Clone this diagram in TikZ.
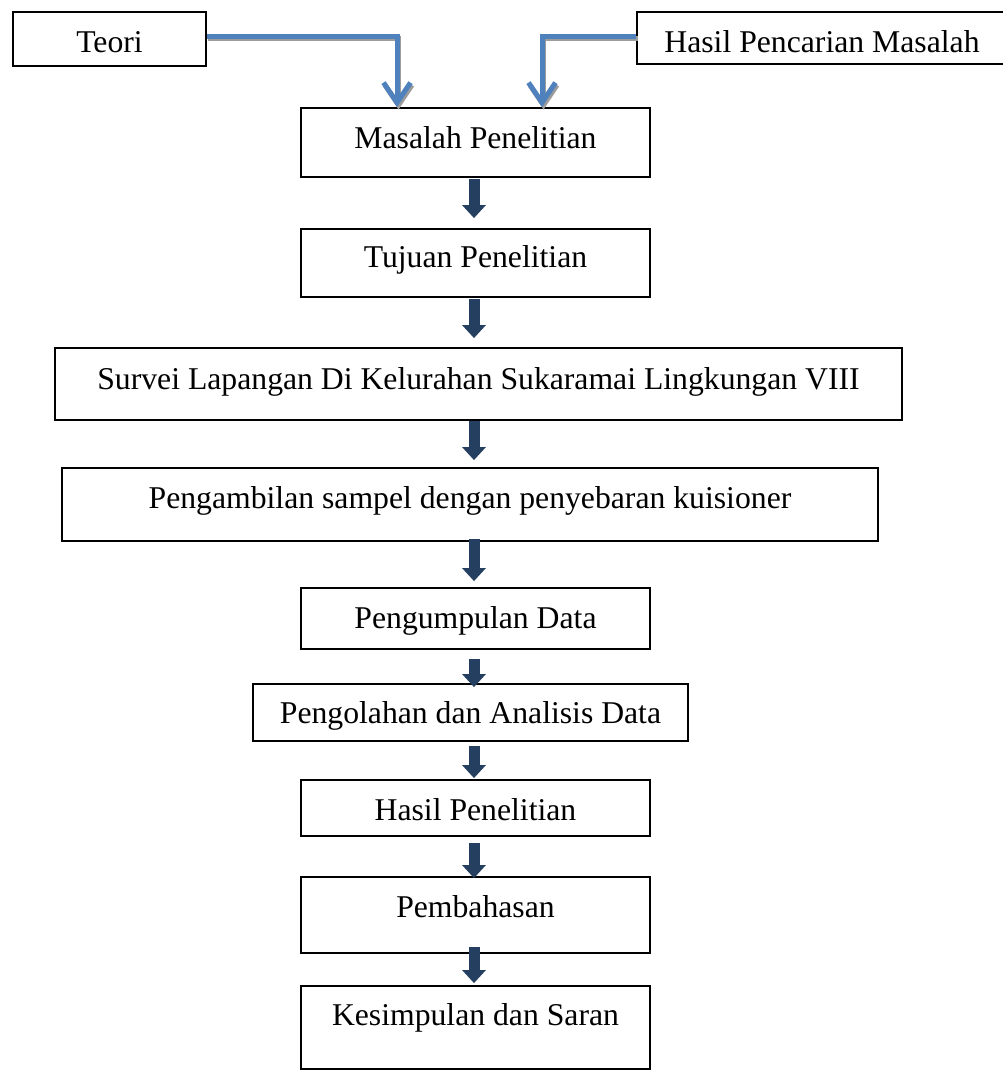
\documentclass[tikz,border=0pt]{standalone}
\usepackage{fontspec}
\setmainfont{Liberation Serif}
\usetikzlibrary{arrows.meta,calc}
\definecolor{blueC}{HTML}{4F81BD}
\definecolor{shadC}{HTML}{9C9C9C}
\definecolor{navyC}{HTML}{243F60}
\begin{document}
\begin{tikzpicture}[x=1pt,y=-1pt,
 box/.style={draw=black, line width=1.8pt, rectangle, inner sep=0pt,
   font=\fontsize{31.7}{38}\selectfont, text height=30pt},
 darr/.style={draw=navyC, line width=11pt, -{Triangle[length=13pt,width=23pt]}},
 barr/.style={draw=blueC, line width=5pt, -{Straight Barb[length=20pt,width=27pt]}},
 sarr/.style={draw=shadC, line width=5pt, -{Straight Barb[length=20pt,width=27pt]}}]
\useasboundingbox (0,0) rectangle (1003,1072);

\node[box, minimum width=193pt, minimum height=54pt, text depth=4pt] (teori) at (109.5,39) {Teori};
\node[box, minimum width=370pt, minimum height=52pt, text depth=2pt] (hasil) at (822,38) {Hasil Pencarian Masalah};
\node[box, minimum width=349pt, minimum height=69pt, text depth=19pt] (m) at (475.5,142.5) {Masalah Penelitian};
\node[box, minimum width=349pt, minimum height=68pt, text depth=22pt] (t) at (475.5,263) {Tujuan Penelitian};
\node[box, minimum width=847pt, minimum height=72pt, text depth=20pt] (s) at (478.5,384) {Survei Lapangan Di Kelurahan Sukaramai Lingkungan VIII};
\node[box, minimum width=816pt, minimum height=73pt, text depth=23pt] (p) at (470,504.5) {Pengambilan sampel dengan penyebaran kuisioner};
\node[box, minimum width=349pt, minimum height=61pt, text depth=11pt] (pg) at (475.5,618.5) {Pengumpulan Data};
\node[box, minimum width=435pt, minimum height=57pt, text depth=9pt] (po) at (470.5,712.5) {Pengolahan dan Analisis Data};
\node[box, minimum width=349pt, minimum height=56pt, text depth=6pt] (hp) at (475.5,808) {Hasil Penelitian};
\node[box, minimum width=349pt, minimum height=76pt, text depth=26pt] (pb) at (475.5,915) {Pembahasan};
\node[box, minimum width=349pt, minimum height=83pt, text depth=35pt] (k) at (475.5,1027.5) {Kesimpulan dan Saran};

\coordinate (ax) at (474,0);
\coordinate (c1) at (397,36);
\coordinate (c2) at (542,36);

% shadows of the blue connectors
\draw[sarr] ($(teori.east |- c1)+(1.5,2.5)$) -- ($(c1)+(1.5,2.5)$) -- ($(c1 |- m.north)+(1.5,2.5)$);
\draw[sarr] ($(hasil.west |- c2)+(1.5,2.5)$) -- ($(c2)+(1.5,2.5)$) -- ($(c2 |- m.north)+(1.5,2.5)$);
% blue connectors
\draw[barr] (teori.east |- c1) -- (c1) -- (c1 |- m.north);
\draw[barr] (hasil.west |- c2) -- (c2) -- (c2 |- m.north);

% dark arrows
\draw[darr] ($(ax |- m.south)+(0,1)$) -- ($(ax |- t.north)+(0,-10)$);
\draw[darr] ($(ax |- t.south)+(0,1)$) -- ($(ax |- s.north)+(0,-9)$);
\draw[darr] ($(ax |- s.south)+(0,0)$) -- ($(ax |- p.north)+(0,-7)$);
\draw[darr] ($(ax |- p.south)+(0,-3)$) -- ($(ax |- pg.north)+(0,-6)$);
\draw[darr] ($(ax |- pg.south)+(0,9)$) -- ($(ax |- po.north)+(0,4)$);
\draw[darr] ($(ax |- po.south)+(0,4)$) -- ($(ax |- hp.north)+(0,-1)$);
\draw[darr] ($(ax |- hp.south)+(0,6)$) -- ($(ax |- pb.north)+(0,2)$);
\draw[darr] ($(ax |- pb.south)+(0,-7)$) -- ($(ax |- k.north)+(0,-2)$);
\end{tikzpicture}
\end{document}
